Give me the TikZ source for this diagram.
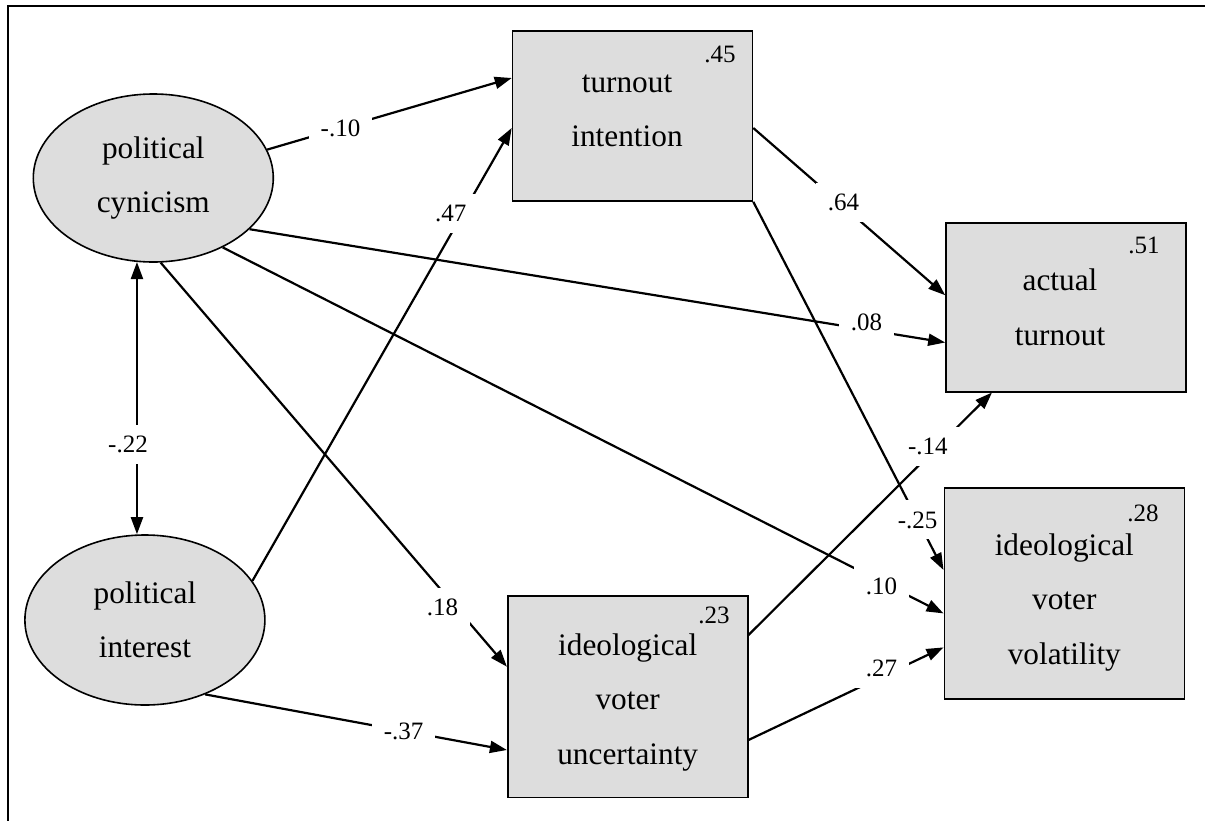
\documentclass[tikz,border=0pt]{standalone}
\usepackage{fontspec}
\setmainfont{Liberation Serif}
\usetikzlibrary{shapes.geometric,arrows.meta}
\definecolor{kastengrau}{RGB}{221,221,221}

\begin{document}
\begin{tikzpicture}[x=1pt,y=-1pt,
	>={Triangle[length=17pt,width=12pt]},
	kasten/.style={draw,line width=1.6pt,fill=kastengrau,minimum width=240pt,align=center,inner sep=0pt,font=\fontsize{31.3}{54.5}\selectfont},
	latent/.style={kasten,ellipse},
	pfeil/.style={line width=2.2pt,->},
	zahl/.style={fill=white,inner xsep=12pt,inner ysep=11pt,font=\fontsize{25}{25}\selectfont},
	rq/.style={anchor=north east,inner sep=0pt,font=\fontsize{25}{25}\selectfont}]
		\useasboundingbox (0,0) rectangle (1205,820);
		% Rahmen
		\draw[line width=2pt] (7.7,830) |- (1215,6);
		% latente Variablen
		\node[latent,minimum height=168pt] (zyn) at (153.3,178) {political\\cynicism};
		\node[latent,minimum height=170pt] (int) at (144.9,620) {political\\interest};
		% Kaesten
		\node[kasten,minimum height=170pt] (abs) at (632.5,116) {\hspace*{-11pt}turnout\\\hspace*{-11pt}intention\rule[-11pt]{0pt}{0pt}};
		\node[kasten,minimum height=169pt] (wahl) at (1066,307.2) {\hspace*{-12pt}actual\\\hspace*{-12pt}turnout};
		\node[kasten,minimum height=201.7pt] (uns) at (627.7,696.8) {\rule{0pt}{33pt}ideological\\voter\\uncertainty};
		\node[kasten,minimum height=211.3pt] (vol) at (1064.3,593.4) {\rule{0pt}{39pt}ideological\\voter\\volatility};
		% erklaerte Varianz in den Kaesten
		\foreach \k/\dx/\dy/\n in {abs/-17.4/-16/.45,wahl/-27/-15.3/.51,uns/-18.7/-12/.23,vol/-26.3/-17.3/.28}
		\node[rq] (r\k) at ([xshift=\dx pt,yshift=\dy pt]\k.north east) {\n};
		% Pfade mit Koeffizienten
		\draw[pfeil] (zyn.14) -- node[zahl,pos=.30] (z1) {-.10} ([yshift=38pt]abs.west);
		\draw[pfeil] (int.20) -- node[zahl,pos=.80,xshift=-9pt,yshift=5pt] (z2) {.47} ([yshift=-12pt]abs.west);
		\draw[pfeil] ([yshift=-12pt]abs.east) -- node[zahl,pos=.47,yshift=4pt] (z3) {.64} ([yshift=12pt]wahl.west);
		\draw[pfeil] (zyn.-28) -- node[zahl,pos=.887,yshift=7pt] (z4) {.08} ([yshift=-35.3pt]wahl.west);
		\draw[pfeil] ([yshift=61.8pt]uns.east) -- node[zahl,pos=.778,xshift=-10pt] (z5) {-.14} ([xshift=-74pt]wahl.south);
		\draw[pfeil] (abs.south east) -- node[zahl,pos=.864,inner xsep=6pt] (z6) {-.25} ([yshift=23.4pt]vol.west);
		\draw[pfeil] (zyn.-45) -- node[zahl,pos=.914,yshift=-4pt] (z7) {.10} ([yshift=-20pt]vol.west);
		\draw[pfeil] ([yshift=-43.2pt]uns.east) -- node[zahl,pos=.682,yshift=8pt] (z8) {.27} ([yshift=-54pt]vol.west);
		\draw[pfeil] (zyn.-85) -- node[zahl,pos=.837,xshift=-8pt,yshift=-7pt] (z9) {.18} ([yshift=30.1pt]uns.west);
		\draw[pfeil] (int.-51) -- node[zahl,pos=.658] (z10) {-.37} ([yshift=-53.2pt]uns.west);
		% Korrelation
		\draw[pfeil,<->] (zyn.-101) -- node[zahl,pos=.67,xshift=-9pt] (z11) {-.22} (zyn.-101 |- int.north);
	\end{tikzpicture}
\end{document}
